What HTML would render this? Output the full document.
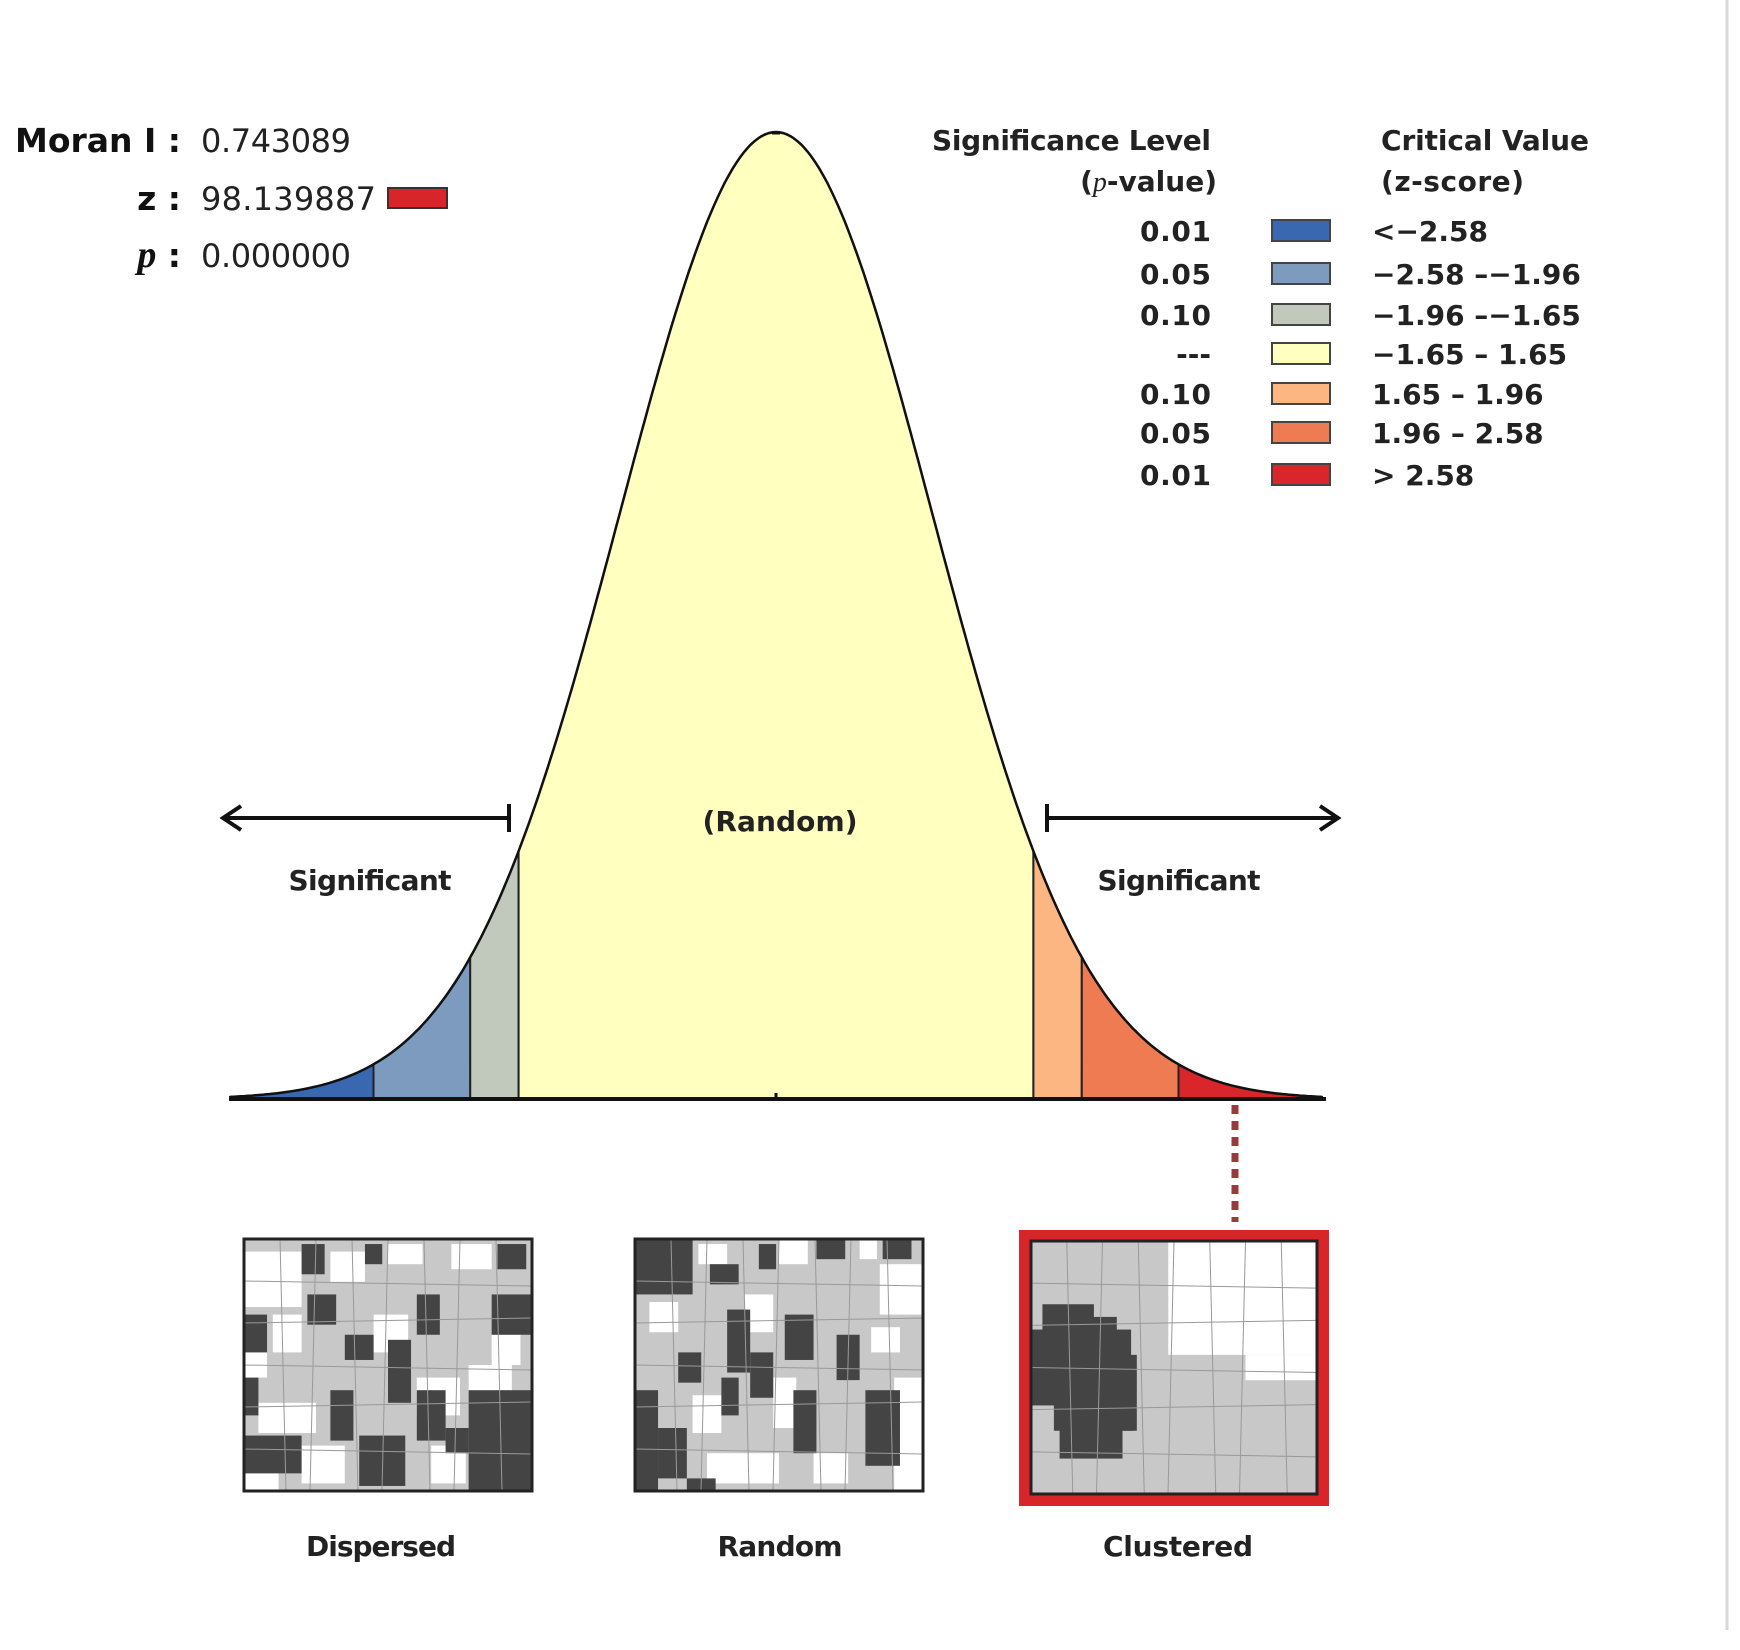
<!DOCTYPE html>
<html><head><meta charset="utf-8"><style>
html,body{margin:0;padding:0;background:#fff;}
svg{display:block;font-family:"DejaVu Sans","Liberation Sans",sans-serif;}
</style></head><body>
<svg id="chart" width="1740" height="1650" viewBox="0 0 1740 1650">
<line x1="1727" y1="0" x2="1727" y2="1630" stroke="#d8d8d8" stroke-width="3"/>
<g id="stats">
<text x="181" y="152" font-size="33" font-weight="bold" text-anchor="end" fill="#111">Moran I :</text>
<text x="201" y="152" font-size="32" fill="#222" textLength="150">0.743089</text>
<text x="181" y="210" font-size="33" font-weight="bold" text-anchor="end" fill="#111">z :</text>
<text x="201" y="210" font-size="32" fill="#222" textLength="175">98.139887</text>
<rect x="388" y="188" width="59" height="20" fill="#d8252a" stroke="#333" stroke-width="2"/>
<text x="181" y="267" font-size="33" font-weight="bold" text-anchor="end" fill="#111"><tspan font-family="Liberation Serif,serif" font-style="italic" font-size="38">p</tspan> :</text>
<text x="201" y="267" font-size="32" fill="#222" textLength="150">0.000000</text>
</g>
<g id="curve"></g>
<g id="legend"></g>
<g id="maps"></g>
</svg>
<script>
const NS="http://www.w3.org/2000/svg";
const breaks=[-3.5,-2.58,-1.96,-1.65,1.65,1.96,2.58,3.5];
const zoneColors=["#3a68b0","#7d9abf","#c0c9bc","#ffffc0","#fbb681","#ef7b52","#d8262b"];
const pLabels=["0.01","0.05","0.10","---","0.10","0.05","0.01"];
const critLabels=["<\u22122.58","\u22122.58 \u2013\u22121.96","\u22121.96 \u2013\u22121.65","\u22121.65 \u2013 1.65"," 1.65 \u2013 1.96"," 1.96 \u2013 2.58","> 2.58"];
const cx=776, sig=156, base=1099, peakH=967;
function X(z){return cx+z*sig;}
function Y(z){return base-peakH*Math.exp(-z*z/2);}
function mk(tag,attrs,parent){const e=document.createElementNS(NS,tag);for(const k in attrs)e.setAttribute(k,attrs[k]);parent.appendChild(e);return e;}
const cg=document.getElementById('curve');
for(let i=0;i<zoneColors.length;i++){
  const a=breaks[i],b=breaks[i+1];let d="M"+X(a)+","+base;
  for(let k=0;k<=60;k++){const z=a+(b-a)*k/60;d+=" L"+X(z).toFixed(1)+","+Y(z).toFixed(1);}
  d+=" L"+X(b)+","+base+" Z";
  const p=mk('path',{d:d,fill:zoneColors[i],stroke:"#222","stroke-width":2},cg);
  
  
}
let d="";for(let k=0;k<=300;k++){const z=-3.5+7*k/300;d+=(k?" L":"M")+X(z).toFixed(1)+","+Y(z).toFixed(1);}
const outline=mk('path',{d:d,fill:"none",stroke:"#111","stroke-width":2.5},cg);


const ax=mk('line',{x1:229,y1:base,x2:1326,y2:base,stroke:"#111","stroke-width":4},cg);


mk('line',{x1:cx,y1:base-6,x2:cx,y2:base,stroke:"#111","stroke-width":3},cg);
mk('line',{x1:cx-4,y1:Y(0)+1,x2:cx+4,y2:Y(0)+1,stroke:"#111","stroke-width":3},cg);
const ay=818;
const la=mk('path',{d:`M509,${ay} L226,${ay} M509,${ay-14} L509,${ay+14} M241,${ay-12} L223,${ay} L241,${ay+12}`,fill:"none",stroke:"#111","stroke-width":4},cg);


const ra=mk('path',{d:`M1047,${ay} L1336,${ay} M1047,${ay-14} L1047,${ay+14} M1320,${ay-12} L1338,${ay} L1320,${ay+12}`,fill:"none",stroke:"#111","stroke-width":4},cg);


function txt(s,x,y,size,anchor,parent,name,len){const t=mk('text',{x:x,y:y,"font-size":size,"font-weight":"bold","text-anchor":anchor,fill:"#222"},parent);t.textContent=s;if(len)t.setAttribute('textLength',len);return t;}
txt("(Random)",780,831,28,"middle",cg,"random-label",155);
txt("Significant",370,890,28,"middle",cg,"significant-left",163);
txt("Significant",1179,890,28,"middle",cg,"significant-right",163);
const lg=document.getElementById('legend');
txt("Significance Level",1211,150,28,"end",lg,"legend-p-title",279);
const pv=txt("",1217,191,28,"end",lg,"legend-p-subtitle");
pv.innerHTML='(<tspan font-family="Liberation Serif,serif" font-style="italic" font-weight="normal">p</tspan>-value)';
txt("Critical Value",1381,150,28,"start",lg,"legend-z-title",208);
txt("(z-score)",1381,191,28,"start",lg,"legend-z-subtitle",143);
const rowY=[231,274,315,354,394,433,475];
for(let i=0;i<pLabels.length;i++){
  const y=rowY[i];
  txt(pLabels[i],1211,y+10,28,"end",lg,"legend-p-"+i, pLabels[i]==="---"?null:71);
  const r=mk('rect',{x:1272,y:y-11,width:58,height:21,fill:zoneColors[i],stroke:"#444","stroke-width":2},lg);
  
  
  txt(critLabels[i],1372,y+10,28,"start",lg,"legend-z-"+i);
}
const dl=mk('line',{x1:1235,y1:1105,x2:1235,y2:1222,stroke:"#9b3a3a","stroke-width":7,"stroke-dasharray":"9,7"},cg);


const mg=document.getElementById('maps');
const dispDark=[[0.2,0.02,0.08,0.12],[0.42,0.02,0.06,0.08],[0.88,0.02,0.1,0.1],[0.22,0.22,0.1,0.12],[0.6,0.22,0.08,0.16],[0.86,0.22,0.14,0.16],[0,0.3,0.08,0.15],[0.35,0.38,0.1,0.1],[0.5,0.4,0.08,0.25],[0.0,0.55,0.05,0.15],[0.3,0.6,0.08,0.2],[0.6,0.6,0.1,0.2],[0,0.78,0.2,0.15],[0.4,0.78,0.16,0.2],[0.7,0.75,0.08,0.1],[0.78,0.6,0.22,0.4]];
const dispWhite=[[0,0.05,0.2,0.22],[0.3,0.05,0.12,0.12],[0.5,0.02,0.12,0.08],[0.72,0.02,0.14,0.1],[0.1,0.3,0.1,0.15],[0.45,0.3,0.12,0.15],[0.86,0.38,0.1,0.12],[0,0.45,0.08,0.1],[0.05,0.65,0.2,0.12],[0.6,0.55,0.15,0.15],[0.78,0.5,0.15,0.15],[0.2,0.82,0.15,0.15],[0.65,0.82,0.12,0.15],[0,0.93,0.12,0.07]];
const randDark=[[0,0,0.2,0.22],[0.26,0.1,0.1,0.08],[0.43,0.02,0.06,0.1],[0.63,0,0.1,0.08],[0.86,0,0.1,0.08],[0.32,0.28,0.08,0.25],[0.52,0.3,0.1,0.18],[0.7,0.38,0.08,0.18],[0.15,0.45,0.08,0.12],[0.3,0.55,0.06,0.15],[0.4,0.45,0.08,0.18],[0,0.6,0.08,0.4],[0.08,0.75,0.1,0.2],[0.55,0.6,0.08,0.25],[0.8,0.6,0.12,0.3],[0.18,0.95,0.1,0.05]];
const randWhite=[[0.22,0.02,0.1,0.08],[0.5,0,0.1,0.1],[0.78,0,0.06,0.08],[0.85,0.1,0.15,0.2],[0.05,0.25,0.1,0.12],[0.38,0.22,0.1,0.15],[0.82,0.35,0.1,0.1],[0.2,0.62,0.1,0.15],[0.48,0.55,0.08,0.2],[0.25,0.85,0.25,0.12],[0.62,0.85,0.12,0.12],[0.9,0.55,0.1,0.45]];
const clustDark=[[0,0.35,0.35,0.3],[0.04,0.25,0.18,0.12],[0.08,0.6,0.28,0.15],[0.1,0.72,0.22,0.14],[0.2,0.3,0.1,0.1],[0.3,0.45,0.07,0.3]];
const clustWhite=[[0.48,0,0.52,0.45],[0.75,0.45,0.25,0.1]];
function drawMap(x0,y0,w,h,dark,white,name){
  const g=mk('g',{},mg);
  
  
  mk('rect',{x:x0,y:y0,width:w,height:h,fill:"#c8c8c8"},g);
  white.forEach(r=>mk('rect',{x:x0+r[0]*w,y:y0+r[1]*h,width:r[2]*w,height:r[3]*h,fill:"#fff"},g));
  dark.forEach(r=>mk('rect',{x:x0+r[0]*w,y:y0+r[1]*h,width:r[2]*w,height:r[3]*h,fill:"#444"},g));
  for(let i=1;i<8;i++){mk('line',{x1:x0+i*w/8,y1:y0,x2:x0+i*w/8+(i%2?6:-6),y2:y0+h,stroke:"#999","stroke-width":1},g);}
  for(let i=1;i<6;i++){mk('line',{x1:x0,y1:y0+i*h/6,x2:x0+w,y2:y0+i*h/6+(i%2?5:-5),stroke:"#999","stroke-width":1},g);}
  mk('rect',{x:x0,y:y0,width:w,height:h,fill:"none",stroke:"#222","stroke-width":3},g);
}
drawMap(244,1239,288,252,dispDark,dispWhite,"map-dispersed");
drawMap(635,1239,288,252,randDark,randWhite,"map-random");
const fr=mk('rect',{x:1019,y:1230,width:310,height:276,fill:"#d8252a"},mg);


drawMap(1031,1241,286,253,clustDark,clustWhite,"map-clustered");
txt("Dispersed",381,1556,28,"middle",mg,"label-dispersed",150);
txt("Random",780,1556,28,"middle",mg,"label-random",125);
txt("Clustered",1178,1556,28,"middle",mg,"label-clustered",150);
</script>
</body></html>
